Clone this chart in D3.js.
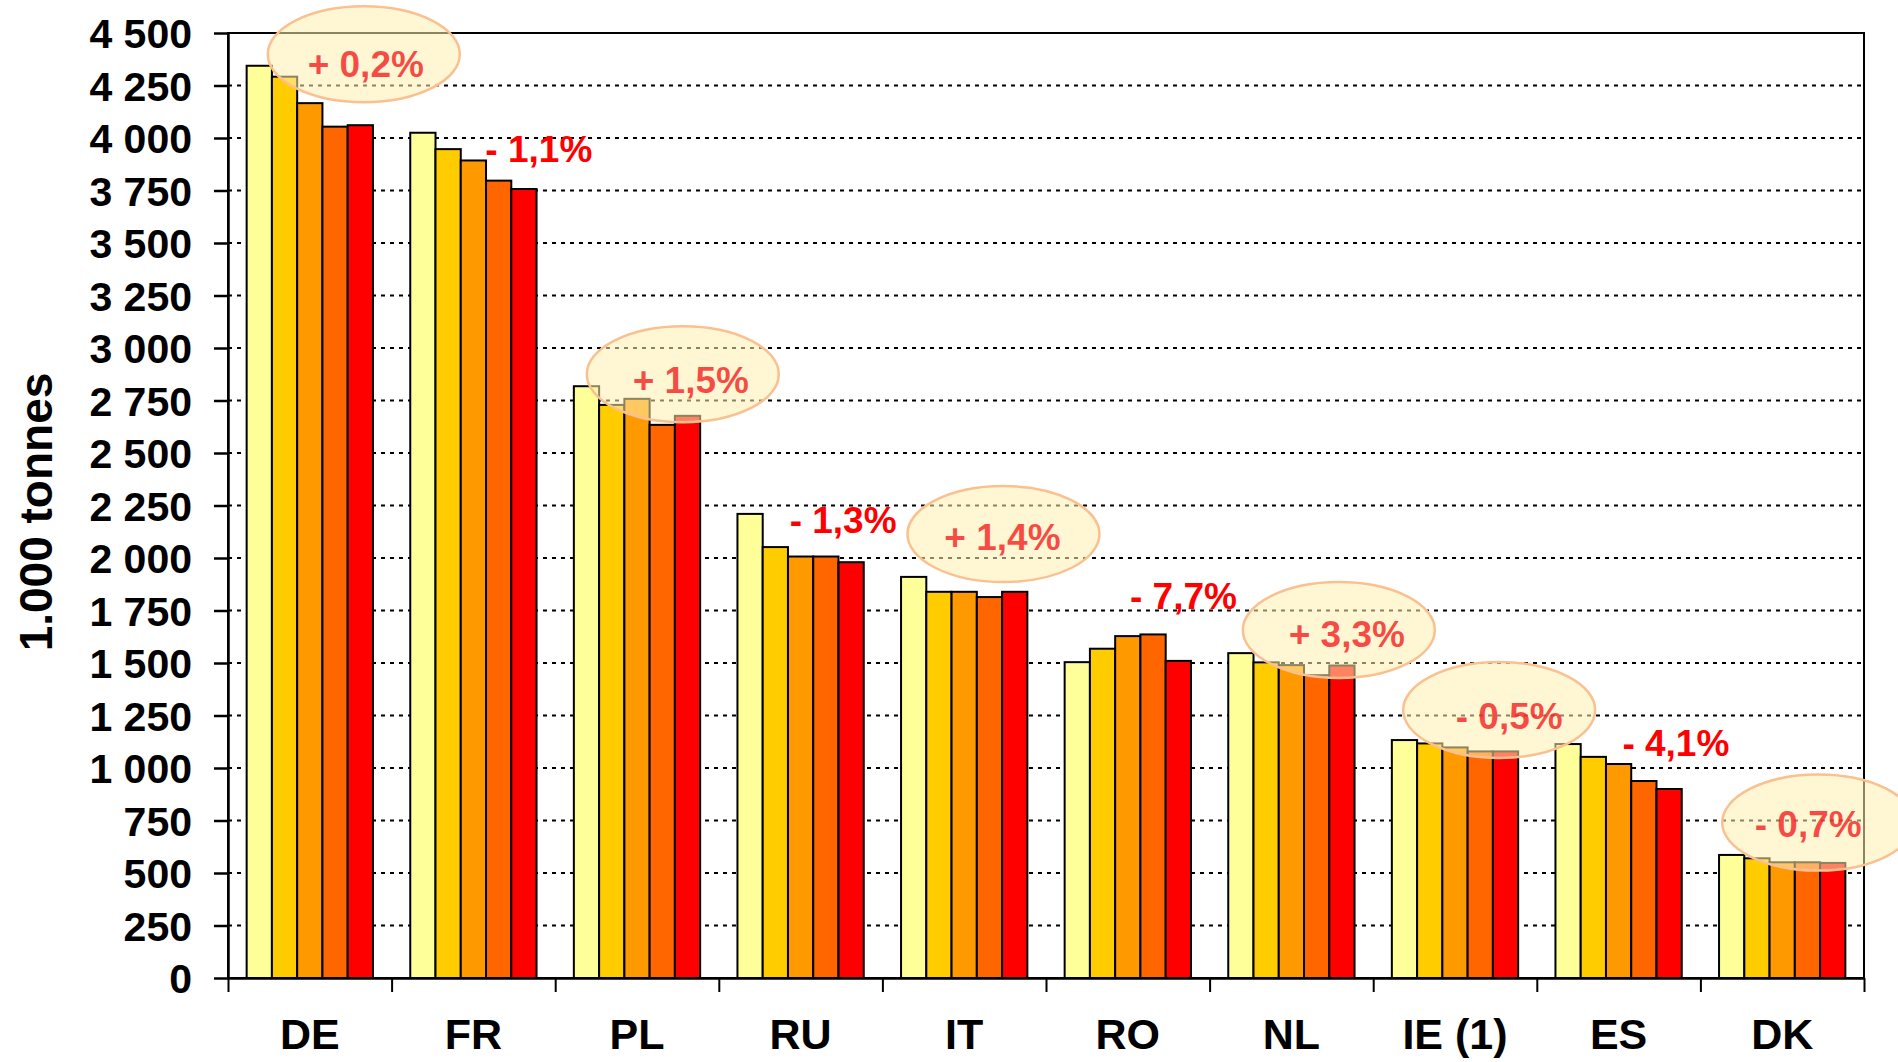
<!DOCTYPE html>
<html>
<head>
<meta charset="utf-8">
<script src="https://cdn.jsdelivr.net/npm/d3@7"></script>
<style>
  body { margin: 0; background: #fff; }
  svg { display: block; font-family: "Liberation Sans", Arial, sans-serif; font-weight: bold; }
</style>
</head>
<body>
<script>
// data (1.000 tonnes)
const categories = ['DE', 'FR', 'PL', 'RU', 'IT', 'RO', 'NL', 'IE (1)', 'ES', 'DK']
const seriesNames = ['s1', 's2', 's3', 's4', 's5']
const s1 = [4344, 4025, 2818, 2210, 1910, 1504, 1547, 1133, 1114, 586]
const s2 = [4292, 3947, 2729, 2052, 1839, 1568, 1503, 1117, 1053, 570]
const s3 = [4166, 3893, 2758, 2007, 1839, 1628, 1490, 1098, 1019, 551]
const s4 = [4054, 3797, 2634, 2007, 1814, 1636, 1442, 1079, 938, 551]
const s5 = [4061, 3757, 2677, 1980, 1839, 1510, 1488, 1079, 900, 548]
const yTicks = [0, 250, 500, 750, 1000, 1250, 1500, 1750, 2000, 2250, 2500, 2750, 3000, 3250, 3500, 3750, 4000, 4250, 4500]
const changes = ['+ 0,2%', '- 1,1%', '+ 1,5%', '- 1,3%', '+ 1,4%', '- 7,7%', '+ 3,3%', '- 0,5%', '- 4,1%', '- 0,7%']
const circled = [true, false, true, false, true, false, true, true, false, true]

// layout of the notes: [shift as part of a category step, height in tonnes, text dx, text dy]
const noteSpots = [[0.33, 4399, 2, 23], [0.40, 3884, 0, 0], [0.28, 2875, 8, 19], [0.26, 2118, 0, 0],
                   [0.24, 2114, -1, 16], [0.34, 1757, 0, 0], [0.29, 1657, 8, 17], [0.27, 1276, 10, 19],
                   [0.35, 1057, 0, 0], [0.22, 740, -10, 14]]

const colors = ['#FFFF99', '#FFCC00', '#FF9900', '#FF6600', '#FF0000']
const values = [s1, s2, s3, s4, s5]

const W = 1898, H = 1062
const plotLeft = 228, plotRight = 1864, plotTop = 33, plotBottom = 978

const svg = d3.select('body').append('svg')
    .attr('width', W)
    .attr('height', H)

const x0 = d3.scaleBand()
    .domain(categories)
    .range([plotLeft, plotRight])
    .paddingInner(0.228)
    .paddingOuter(0.114)

const x1 = d3.scaleBand()
    .domain(seriesNames)
    .range([0, x0.bandwidth()])

const y = d3.scaleLinear()
    .domain([0, 4500])
    .range([plotBottom, plotTop])

// gridlines
svg.append('g')
    .selectAll('line')
    .data(yTicks.filter(d => d > 0 && d < 4500))
    .join('line')
    .attr('x1', plotLeft)
    .attr('x2', plotRight)
    .attr('y1', d => y(d))
    .attr('y2', d => y(d))
    .attr('stroke', '#000')
    .attr('stroke-width', 2.2)
    .attr('stroke-dasharray', '4,5')

// bars
const groups = svg.append('g')
    .selectAll('g')
    .data(categories)
    .join('g')
    .attr('transform', d => `translate(${x0(d)},0)`)

groups.selectAll('rect')
    .data((c, i) => seriesNames.map((s, j) => ({ s: s, j: j, v: values[j][i] })))
    .join('rect')
    .attr('x', d => x1(d.s))
    .attr('y', d => y(d.v))
    .attr('width', x1.bandwidth())
    .attr('height', d => plotBottom - y(d.v))
    .attr('fill', d => colors[d.j])
    .attr('stroke', '#000')
    .attr('stroke-width', 2)

// frame
svg.append('rect')
    .attr('x', plotLeft)
    .attr('y', plotTop)
    .attr('width', plotRight - plotLeft)
    .attr('height', plotBottom - plotTop)
    .attr('fill', 'none')
    .attr('stroke', '#000')
    .attr('stroke-width', 2)

// y axis
const yAxis = svg.append('g')
    .attr('transform', `translate(${plotLeft},0)`)
    .call(d3.axisLeft(y)
        .tickValues(yTicks)
        .tickSize(14)
        .tickSizeOuter(0)
        .tickPadding(22)
        .tickFormat(d => d3.format(',')(d).replace(',', ' ')))

yAxis.select('.domain').attr('stroke-width', 2.5)
yAxis.selectAll('.tick line').attr('stroke-width', 2.5)
yAxis.selectAll('.tick text')
    .attr('dy', '0.36em')
    .style('font-size', '41px')
    .style('font-family', '"Liberation Sans", Arial, sans-serif')
    .style('font-weight', 'bold')
    .attr('fill', '#000')

// x axis: ticks between the categories
const xEdges = d3.scaleLinear().domain([0, categories.length]).range([plotLeft, plotRight])
const xAxis = svg.append('g')
    .attr('transform', `translate(0,${plotBottom})`)
    .call(d3.axisBottom(xEdges)
        .tickValues(d3.range(categories.length + 1))
        .tickSize(14)
        .tickSizeOuter(0)
        .tickFormat(''))
xAxis.select('.domain').attr('stroke-width', 2.5)
xAxis.selectAll('.tick line').attr('stroke-width', 2)

svg.append('g')
    .selectAll('text')
    .data(categories)
    .join('text')
    .attr('x', d => x0(d) + x0.bandwidth() / 2)
    .attr('y', 1049)
    .attr('text-anchor', 'middle')
    .style('font-size', '43px')
    .attr('fill', '#000')
    .text(d => d)

// y title
svg.append('text')
    .attr('transform', 'translate(52,512) rotate(-90)')
    .attr('text-anchor', 'middle')
    .style('font-size', '46px')
    .attr('fill', '#000')
    .text('1.000 tonnes')

// notes: circled ones first get their ellipse
const notes = svg.append('g')
categories.forEach((c, i) => {
    const spot = noteSpots[i]
    const cx = x0(c) + x0.bandwidth() / 2 + x0.step() * spot[0]
    const cy = y(spot[1])
    if (circled[i]) {
        notes.append('ellipse')
            .attr('cx', cx)
            .attr('cy', cy)
            .attr('rx', 96)
            .attr('ry', 48)
            .attr('fill', '#FFEEB0')
            .attr('fill-opacity', 0.55)
            .attr('stroke', '#FAC090')
            .attr('stroke-width', 2.5)
        notes.append('text')
            .attr('x', cx + spot[2])
            .attr('y', cy + spot[3])
            .attr('text-anchor', 'middle')
            .style('font-size', '37px')
            .attr('fill', '#F41C1C')
            .attr('fill-opacity', 0.78)
            .text(changes[i])
    } else {
        notes.append('text')
            .attr('x', cx)
            .attr('y', cy)
            .attr('text-anchor', 'middle')
            .style('font-size', '37px')
            .attr('fill', '#FF0000')
            .text(changes[i])
    }
})
</script>
</body>
</html>
